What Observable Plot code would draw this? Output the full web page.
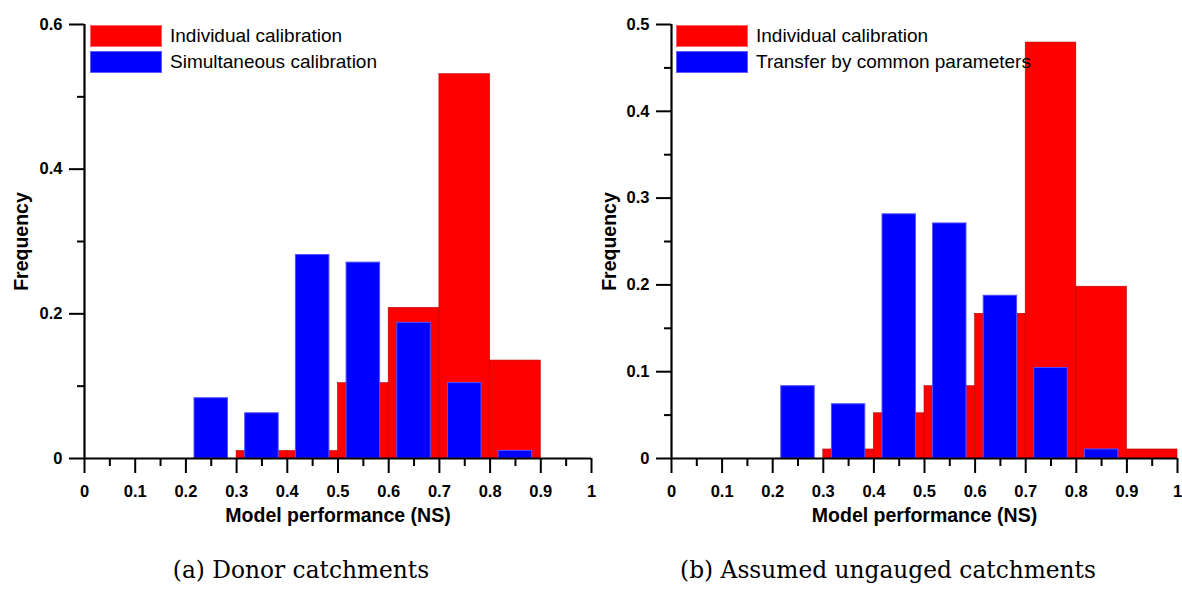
<!DOCTYPE html>
<html>
<head>
<meta charset="utf-8">
<script src="https://cdn.jsdelivr.net/npm/d3@7"></script>
<script src="https://cdn.jsdelivr.net/npm/@observablehq/plot@0.6"></script>
<style>
  body { margin: 0; background: #fff; font-family: "Liberation Sans", Arial, sans-serif; }
  #wrap { position: relative; width: 1182px; height: 599px; overflow: hidden; }
  .panel { position: absolute; top: 0; }
  .panel svg text { font-size: 16.5px; font-weight: bold; }
  .panel svg text.ttl { font-size: 19.5px; }
  .sw { position: absolute; width: 72px; height: 22px; box-sizing: border-box; }
  .lt { position: absolute; font-size: 19px; line-height: 22px; white-space: nowrap; color: #000; }
  .cap { position: absolute; top: 556px; font-family: "DejaVu Serif", "Liberation Serif", serif; font-size: 23.3px; white-space: nowrap; transform: translateX(-50%); }
</style>
</head>
<body>
<div id="wrap">
  <div id="pa" class="panel" style="left:0"></div>
  <div id="pb" class="panel" style="left:600px"></div>
</div>
<script>
// ---- data ----
const binLo = [0.0, 0.1, 0.2, 0.3, 0.4, 0.5, 0.6, 0.7, 0.8, 0.9];
const binHi = [0.1, 0.2, 0.3, 0.4, 0.5, 0.6, 0.7, 0.8, 0.9, 1.0];
const donorIndividual      = [0, 0, 0, 0.0104, 0.0104, 0.1042, 0.2083, 0.5313, 0.1354, 0];
const donorSimultaneous    = [0, 0, 0.0833, 0.0625, 0.2813, 0.2708, 0.1875, 0.1042, 0.0104, 0];
const ungaugedIndividual   = [0, 0, 0, 0.0104, 0.0521, 0.0833, 0.1667, 0.4792, 0.1979, 0.0104];
const ungaugedTransfer     = [0, 0, 0.0833, 0.0625, 0.2813, 0.2708, 0.1875, 0.1042, 0.0104, 0];

const xMajor = [0, 0.1, 0.2, 0.3, 0.4, 0.5, 0.6, 0.7, 0.8, 0.9, 1];
const xMinor = [0.05, 0.15, 0.25, 0.35, 0.45, 0.55, 0.65, 0.75, 0.85, 0.95];
const yMajorA = [0, 0.2, 0.4, 0.6];
const yMinorA = [0.1, 0.3, 0.5];
const yMajorB = [0, 0.1, 0.2, 0.3, 0.4, 0.5];
const yMinorB = [0.05, 0.15, 0.25, 0.35, 0.45];

const xTitle = "Model performance (NS)";
const yTitle = "Frequency";
const legendA = ["Individual calibration", "Simultaneous calibration"];
const legendB = ["Individual calibration", "Transfer by common parameters"];
const captions = ["(a) Donor catchments", "(b) Assumed ungauged catchments"];

const RED = "#ff0000", BLUE = "#0000ff";
const fmt = d3.format("~g");

function table(vals) {
  return binLo.map((lo, i) => ({lo, hi: binHi[i], v: vals[i]})).filter(d => d.v > 0);
}

function panel({red, blue, yMax, yMajor, yMinor, width, marginLeft, marginRight, titleX}) {
  return Plot.plot({
    width, height: 535,
    marginLeft, marginRight, marginTop: 24, marginBottom: 77,
    x: {domain: [0, 1], axis: null},
    y: {domain: [0, yMax], axis: null},
    style: {fontFamily: "'Liberation Sans', Arial, sans-serif", fontSize: "16.5px", fontWeight: "bold", color: "#000", background: "transparent", overflow: "visible"},
    marks: [
      Plot.rectY(table(red), {x1: "lo", x2: "hi", y: "v", fill: RED, stroke: "#b80000", strokeWidth: 0.6}),
      Plot.rectY(table(blue), {x1: "lo", x2: "hi", y: "v", fill: BLUE, stroke: "#5050ff", strokeWidth: 1, insetLeft: 8.6, insetRight: 8.6}),
      Plot.axisX({ticks: xMajor, tickSize: 15, tickPadding: 12, tickFormat: fmt, strokeWidth: 2, label: null}),
      Plot.axisX({ticks: xMinor, tickSize: 8, tickFormat: () => "", strokeWidth: 2, label: null}),
      Plot.axisY({ticks: yMajor, tickSize: 15, tickPadding: 7, tickFormat: fmt, strokeWidth: 2, label: null}),
      Plot.axisY({ticks: yMinor, tickSize: 7, tickFormat: () => "", strokeWidth: 2, label: null}),
      Plot.ruleY([0], {strokeWidth: 2.2}),
      Plot.ruleX([0], {y1: 0, y2: yMax, strokeWidth: 2.2}),
      Plot.text([xTitle], {frameAnchor: "bottom", lineAnchor: "middle", textAnchor: "middle", dy: 57, className: "ttl"}),
      Plot.text([yTitle], {frameAnchor: "left", lineAnchor: "middle", textAnchor: "middle", rotate: -90, dx: -(marginLeft - titleX), className: "ttl"})
    ]
  });
}

document.getElementById("pa").append(panel({
  red: donorIndividual, blue: donorSimultaneous, yMax: 0.6, yMajor: yMajorA, yMinor: yMinorA,
  width: 600, marginLeft: 84, marginRight: 9, titleX: 21
}));
document.getElementById("pb").append(panel({
  red: ungaugedIndividual, blue: ungaugedTransfer, yMax: 0.5, yMajor: yMajorB, yMinor: yMinorB,
  width: 582, marginLeft: 71, marginRight: 5, titleX: 9
}));
// title texts get the larger size
document.querySelectorAll(".panel svg .ttl").forEach(n => {
  if (n.tagName === "text") n.classList.add("ttl");
  else n.querySelectorAll("text").forEach(t => t.classList.add("ttl"));
});

// legends (HTML, overlaid in the plot frame)
const wrap = document.getElementById("wrap");
function legend(x0, labels) {
  [RED, BLUE].forEach((c, i) => {
    const s = document.createElement("div");
    s.className = "sw";
    s.style.left = x0 + "px";
    s.style.top = (25 + i * 26) + "px";
    s.style.background = c;
    s.style.border = "1px solid " + (i === 0 ? "#ff6060" : "#6060ff");
    wrap.append(s);
    const t = document.createElement("div");
    t.className = "lt";
    t.style.left = (x0 + 80) + "px";
    t.style.top = (25 + i * 26) + "px";
    t.textContent = labels[i];
    wrap.append(t);
  });
}
legend(90, legendA);
legend(676, legendB);

// captions
[[301, captions[0]], [888, captions[1]]].forEach(([cx, txt]) => {
  const c = document.createElement("div");
  c.className = "cap";
  c.style.left = cx + "px";
  c.textContent = txt;
  wrap.append(c);
});
</script>
</body>
</html>
